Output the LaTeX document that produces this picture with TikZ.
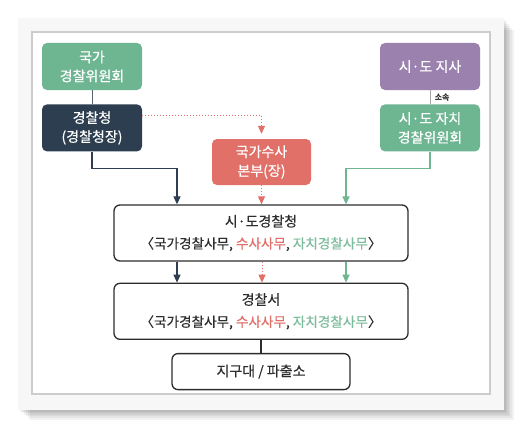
\documentclass[tikz,border=0pt]{standalone}
\usepackage{fontspec}
\setmainfont{Noto Sans CJK KR}
\newfontfamily\medfont{Noto Sans CJK KR}[FakeBold=0.6]
\newfontfamily\semifont{Noto Sans CJK KR}[FakeBold=0.3]
\usepackage{tikz}
\usetikzlibrary{arrows.meta,positioning,calc}

\definecolor{polgreen}{RGB}{110,181,146}
\definecolor{polnavy}{RGB}{44,62,80}
\definecolor{polpurple}{RGB}{155,129,174}
\definecolor{polred}{RGB}{225,112,105}
\definecolor{subgreen}{RGB}{125,188,156}
\definecolor{textdark}{RGB}{45,45,45}

\newcommand{\boxfont}{\medfont\fontsize{14pt}{19pt}\selectfont}
\newcommand{\mainfont}{\semifont\fontsize{14pt}{22pt}\selectfont}
\newcommand{\subfont}{\fontsize{13.6pt}{22pt}\selectfont}

\begin{document}
\begin{tikzpicture}[x=1pt, y=-1pt,
    colbox/.style={rectangle, rounded corners=5pt, minimum width=100pt, minimum height=47pt,
        align=center, text=white, font=\boxfont, inner sep=2pt},
    whitebox/.style={rectangle, rounded corners=6pt, draw=textdark, line width=1.3pt, fill=white,
        minimum width=294pt, minimum height=56pt, align=center, text=textdark, font=\mainfont},
    tip/.style={-{Triangle[width=7pt,length=8pt]}},
    navyline/.style={tip, line width=1.2pt, polnavy},
    greenline/.style={tip, line width=1.2pt, polgreen},
    redline/.style={tip, line width=1pt, polred, dotted}]

    % frame with shadow
    \useasboundingbox (0,0) rectangle (522,428);
    \foreach \s in {0,...,6}
        \fill[black, opacity=0.05] (18+2*\s,18+2*\s) rectangle (504+1.6*\s,410+1.6*\s);
    \fill[gray!6] (18,18) rectangle (504,410);
    \fill[white] (32,32) rectangle (490,394);
    \draw[gray!40, line width=1.2pt] (32,32) rectangle (490,394);

    % national side
    \node[colbox, fill=polgreen] (natcom) at (92,66.5) {국가\\경찰위원회};
    \node[colbox, fill=polnavy, below=14pt of natcom] (npa) {경찰청\\(경찰청장)};

    % regional side
    \node[colbox, fill=polpurple] (governor) at (430,66.5) {시·도 지사};
    \node[colbox, fill=polgreen, below=14pt of governor] (autocom) {시·도 자치\\경찰위원회};

    % investigation
    \node[colbox, fill=polred, minimum width=99pt, minimum height=46pt] (nib) at (261.5,162) {국가수사\\본부(장)};

    % police agencies
    \node[whitebox] (metro) at (261,233) {시·도경찰청\\{\subfont 〈국가경찰사무, \textcolor{polred}{수사사무}, \textcolor{subgreen}{자치경찰사무}〉}};
    \node[whitebox, below=21pt of metro] (station) {경찰서\\{\subfont 〈국가경찰사무, \textcolor{polred}{수사사무}, \textcolor{subgreen}{자치경찰사무}〉}};
    \node[whitebox, minimum width=178pt, minimum height=36pt, below=13pt of station] (subst) {지구대 / 파출소};

    % plain links
    \draw[polnavy!80, line width=1pt] (natcom) -- (npa);
    \draw[gray!70, line width=1pt] (governor) -- node[right, text=textdark, font=\bfseries\fontsize{8pt}{9pt}\selectfont, xshift=1pt] {소속} (autocom);
    \draw[textdark, line width=1.2pt] (station) -- (subst);

    % command lines into metro
    \draw[navyline] (npa.south) -- ++(0,17) -| ([xshift=-84pt]metro.north);
    \draw[greenline] (autocom.south) -- ++(0,17) -| ([xshift=85pt]metro.north);
    \draw[redline, shorten >=5pt] ([yshift=12.5pt]npa.east) -| (nib.north);
    \draw[redline] (nib.south) -- (nib.south |- metro.north);

    % metro to station
    \draw[navyline] ([xshift=-84pt]metro.south) -- ([xshift=-84pt]station.north);
    \draw[redline] ([xshift=1pt]metro.south) -- ([xshift=1pt]station.north);
    \draw[greenline] ([xshift=85pt]metro.south) -- ([xshift=85pt]station.north);
\end{tikzpicture}
\end{document}
